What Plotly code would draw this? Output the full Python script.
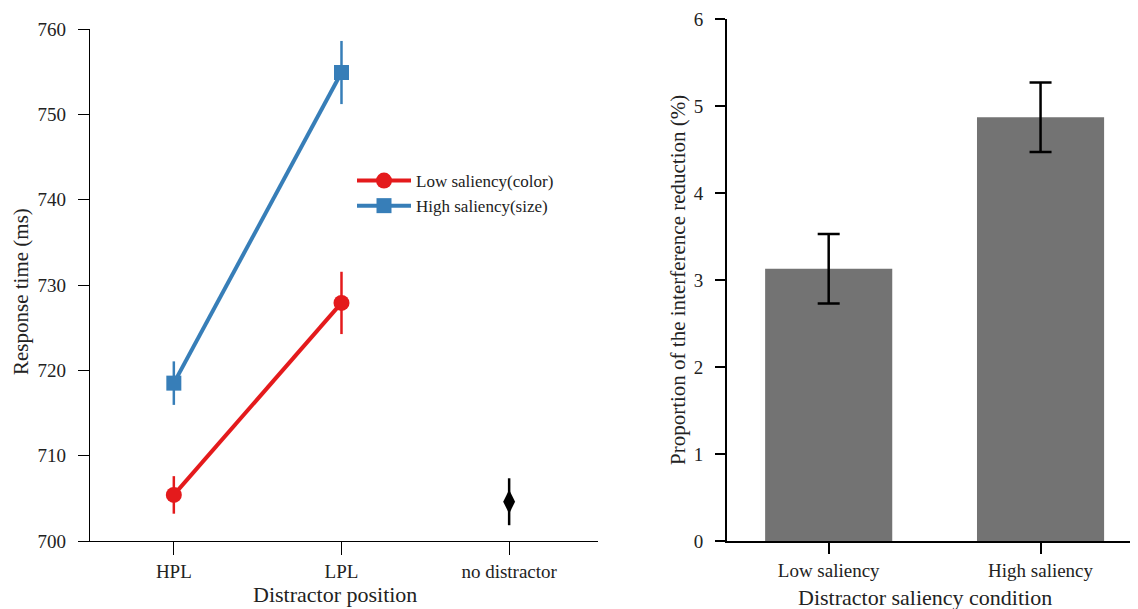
import plotly.graph_objects as go

# ---- data ----
positions = ["HPL", "LPL", "no distractor"]
low_rt = [705.4, 727.9]
low_err = [2.2, 3.65]
high_rt = [718.5, 754.9]
high_err = [2.55, 3.7]
nodist_rt = [704.6]
nodist_err = [2.75]

conditions = ["Low saliency", "High saliency"]
reduction = [3.13, 4.87]
reduction_err = [0.40, 0.40]

OFF = 8  # default page body margin
W, H = 1138 - OFF, 609 - OFF
FONT = "Liberation Serif"
RED = "#E41A1C"
BLUE = "#377EB8"
TXT = "#222"


def px(xp):
    return (xp - OFF) / W


top = 19 - OFF
bottom_px = 541 - OFF
bottom = H - bottom_px
plot_h = bottom_px - top


def py(yp):
    return (bottom_px - (yp - OFF)) / plot_h


fig = go.Figure()

fig.add_trace(go.Scatter(
    x=positions[:2], y=low_rt, mode="lines+markers", name="Low saliency(color)",
    line=dict(color=RED, width=4), marker=dict(symbol="circle", size=16, color=RED),
    error_y=dict(type="data", array=low_err, color=RED, thickness=2.5, width=0),
    xaxis="x", yaxis="y"))
fig.add_trace(go.Scatter(
    x=positions[:2], y=high_rt, mode="lines+markers", name="High saliency(size)",
    line=dict(color=BLUE, width=4), marker=dict(symbol="square", size=15, color=BLUE),
    error_y=dict(type="data", array=high_err, color=BLUE, thickness=2.5, width=0),
    xaxis="x", yaxis="y"))
fig.add_trace(go.Scatter(
    x=positions[2:], y=nodist_rt, mode="markers", showlegend=False,
    marker=dict(symbol="diamond-tall", size=17, color="black"),
    error_y=dict(type="data", array=nodist_err, color="black", thickness=2.5, width=0),
    xaxis="x", yaxis="y"))

fig.add_trace(go.Bar(
    x=conditions, y=reduction, width=0.6, marker=dict(color="#737373", line=dict(width=0)),
    error_y=dict(type="data", array=reduction_err, color="black", thickness=2.5, width=11),
    showlegend=False, xaxis="x2", yaxis="y2"))

fig.update_layout(
    width=W, height=H,
    margin=dict(l=0, r=0, t=top, b=bottom),
    paper_bgcolor="white", plot_bgcolor="white",
    font=dict(family=FONT, size=19, color=TXT),
    xaxis=dict(domain=[px(90), px(598)], type="category", range=[-0.5, 2.53],
               showline=True, linecolor="black", linewidth=1.2,
               ticks="outside", ticklen=13, tickwidth=1.2, tickcolor="black",
               showgrid=False, zeroline=False, tickfont=dict(size=19),
               anchor="y"),
    yaxis=dict(domain=[0, py(29)], range=[700, 760], tickvals=[700, 710, 720, 730, 740, 750, 760],
               showline=True, linecolor="black", linewidth=1.2,
               ticks="outside", ticklen=11, tickwidth=1.2, tickcolor="black",
               showgrid=False, zeroline=False, tickfont=dict(size=19),
               ticklabelstandoff=8, anchor="x"),
    xaxis2=dict(domain=[px(727), 1], type="category", range=[-0.48, 1.46],
                showline=True, linecolor="black", linewidth=2,
                ticks="outside", ticklen=11, tickwidth=2, tickcolor="black",
                showgrid=False, zeroline=False, tickfont=dict(size=19),
                anchor="y2"),
    yaxis2=dict(domain=[0, 1], range=[0, 6], tickvals=[0, 1, 2, 3, 4, 5, 6],
                showline=True, linecolor="black", linewidth=2,
                ticks="outside", ticklen=10, tickwidth=2, tickcolor="black",
                showgrid=False, zeroline=False, tickfont=dict(size=19),
                ticklabelstandoff=8, anchor="x2"),
    legend=dict(x=px(352), y=py(163), xanchor="left", yanchor="top",
                bgcolor="rgba(0,0,0,0)", font=dict(size=17, color=TXT),
                tracegroupgap=0, itemwidth=54),
    annotations=[
        dict(text="Distractor position", x=px(335), y=py(594),
             xref="paper", yref="paper", showarrow=False, font=dict(size=22, color=TXT),
             xanchor="center", yanchor="middle"),
        dict(text="Distractor saliency condition", x=px(925), y=py(597),
             xref="paper", yref="paper", showarrow=False, font=dict(size=22, color=TXT),
             xanchor="center", yanchor="middle"),
        dict(text="Response time (ms)", x=px(21), y=py(292),
             xref="paper", yref="paper", showarrow=False, textangle=-90,
             font=dict(size=21, color=TXT), xanchor="center", yanchor="middle"),
        dict(text="Proportion of the interference reduction (%)", x=px(678), y=py(280),
             xref="paper", yref="paper", showarrow=False, textangle=-90,
             font=dict(size=21, color=TXT), xanchor="center", yanchor="middle"),
    ],
)

fig.write_html("out.html")
